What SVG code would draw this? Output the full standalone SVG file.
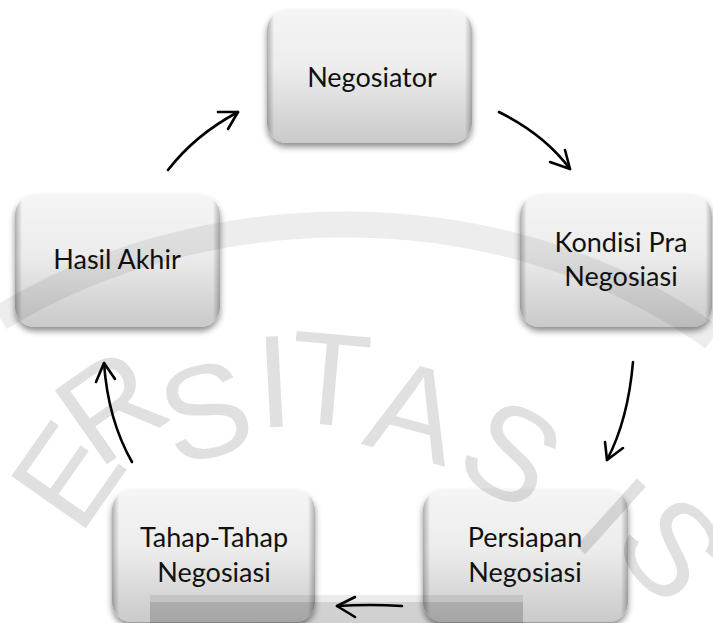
<svg xmlns="http://www.w3.org/2000/svg" width="713" height="623" viewBox="0 0 713 623">
<defs>
  <linearGradient id="boxFill" x1="0" y1="0" x2="0" y2="1">
    <stop offset="0" stop-color="#ffffff"/>
    <stop offset="0.45" stop-color="#f6f6f6"/>
    <stop offset="1" stop-color="#d2d2d2"/>
  </linearGradient>
  <linearGradient id="edgeShade" x1="0" y1="0" x2="1" y2="0">
    <stop offset="0" stop-color="#000" stop-opacity="0.3"/>
    <stop offset="0.035" stop-color="#000" stop-opacity="0.04"/>
    <stop offset="0.965" stop-color="#000" stop-opacity="0.04"/>
    <stop offset="1" stop-color="#000" stop-opacity="0.3"/>
  </linearGradient>
  <filter id="shadow" x="-10%" y="-10%" width="120%" height="130%">
    <feDropShadow dx="0" dy="4" stdDeviation="3" flood-color="#000" flood-opacity="0.45"/>
  </filter>
</defs>
<style>
  .box { fill: url(#boxFill); filter: url(#shadow); }
  .edge { fill: url(#edgeShade); }
  .lbl { font-family: Lato, "Open Sans", "Liberation Sans", sans-serif; font-size: 27px; fill: #111; text-anchor: middle; }
  .wm { font-family: "Liberation Sans", "DejaVu Sans", sans-serif; font-size: 132px; fill: #000; fill-opacity: 0.12; text-anchor: middle; }
  .conn { fill: none; stroke: #000; stroke-width: 2.6; stroke-linecap: round; stroke-linejoin: round; }
</style>

<g id="node-negosiator">
  <rect class="box" x="267" y="10" width="205" height="133" rx="20"/>
  <rect class="edge" x="267" y="10" width="205" height="133" rx="20"/>
  <text class="lbl" x="372" y="87">Negosiator</text>
</g>
<g id="node-kondisi">
  <rect class="box" x="520" y="195" width="192" height="132" rx="20"/>
  <rect class="edge" x="520" y="195" width="192" height="132" rx="20"/>
  <text class="lbl" x="621" y="252">Kondisi Pra</text>
  <text class="lbl" x="621" y="286">Negosiasi</text>
</g>
<g id="node-persiapan">
  <rect class="box" x="423" y="490" width="205" height="132" rx="20"/>
  <rect class="edge" x="423" y="490" width="205" height="132" rx="20"/>
  <text class="lbl" x="525" y="547">Persiapan</text>
  <text class="lbl" x="525" y="582">Negosiasi</text>
</g>
<g id="node-tahap">
  <rect class="box" x="112" y="490" width="203" height="132" rx="20"/>
  <rect class="edge" x="112" y="490" width="203" height="132" rx="20"/>
  <text class="lbl" x="214" y="547">Tahap-Tahap</text>
  <text class="lbl" x="214" y="582">Negosiasi</text>
</g>
<g id="node-hasil">
  <rect class="box" x="15" y="195" width="205" height="132" rx="20"/>
  <rect class="edge" x="15" y="195" width="205" height="132" rx="20"/>
  <text class="lbl" x="117" y="269">Hasil Akhir</text>
</g>

<g id="watermark">
  <path d="M0,318 C200,195 500,185 713,338" fill="none" stroke="#000" stroke-opacity="0.07" stroke-width="26"/>
  <text class="wm" transform="translate(72,478) rotate(-55)" y="40" font-size="115">E</text>
  <text class="wm" transform="translate(110,405) rotate(-35)" y="47">R</text>
  <text class="wm" transform="translate(205,410) rotate(-15)" y="47">S</text>
  <text class="wm" transform="translate(274,380) rotate(-3)" y="47">I</text>
  <text class="wm" transform="translate(330,378) rotate(5)" y="47">T</text>
  <text class="wm" transform="translate(415,410) rotate(15)" y="47">A</text>
  <text class="wm" transform="translate(512,452) rotate(30)" y="47">S</text>
  <text class="wm" transform="translate(612,515) rotate(42)" y="47">I</text>
  <text class="wm" transform="translate(668,552) rotate(50)" y="40" font-size="115">S</text>
  <rect x="150" y="595" width="373" height="7" fill="#000" fill-opacity="0.08"/>
  <rect x="150" y="602" width="373" height="21" fill="#000" fill-opacity="0.18"/>
</g>

<g id="connectors">
  <path class="conn" d="M168,170 Q195,135 238,112"/>
  <path class="conn" d="M218,112 L238,112 L228,129"/>
  <path class="conn" d="M499,112 Q545,135 570,169"/>
  <path class="conn" d="M565,150 L570,169 L550,162"/>
  <path class="conn" d="M633,362 Q628,420 607,460"/>
  <path class="conn" d="M623,448 L607,460 L605,442"/>
  <path class="conn" d="M132,462 Q108,420 104,363"/>
  <path class="conn" d="M96,382 L104,363 L115,379"/>
  <path class="conn" d="M402,606 Q370,604 337,606"/>
  <path class="conn" d="M355,597 L337,606 L355,617"/>
</g>
</svg>
